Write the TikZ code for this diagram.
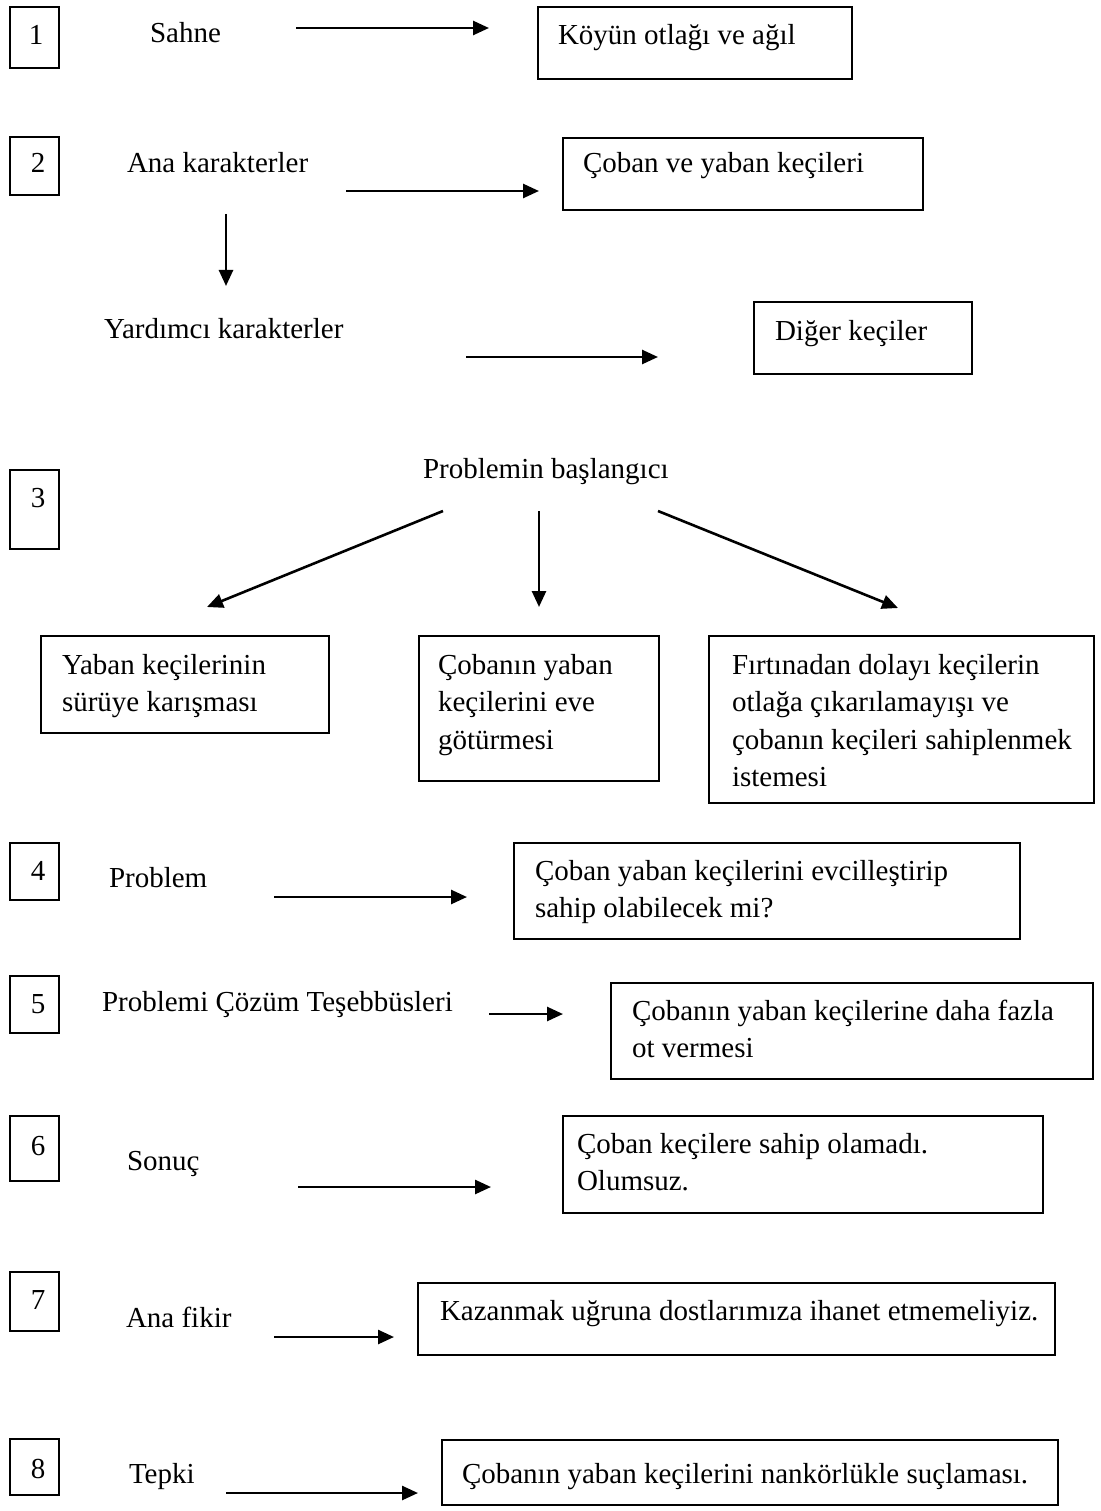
\documentclass[tikz,border=0pt]{standalone}
\usepackage{fontspec}
\setmainfont{Liberation Serif}
\usetikzlibrary{arrows.meta}
\newcommand\linesof[1]{\begin{tabular}[t]{@{}l@{}}#1\end{tabular}}
\begin{document}
\begin{tikzpicture}[x=1pt,y=-1pt,
  every node/.style={font=\fontsize{29}{37.5}\selectfont},
  lbl/.style={anchor=base west,inner sep=0pt,outer sep=0pt},
  digit/.style={anchor=base,inner sep=0pt,outer sep=0pt},
  frame/.style={draw,line width=2pt,rectangle,anchor=north west,inner sep=0pt,outer sep=0pt},
  numbox/.style={frame,minimum width=49pt},
  link/.style={line width=2.6pt,-{Triangle[length=16pt,width=14pt]}}]
\useasboundingbox (0,0) rectangle (1100,1511);

% ---- numbered step boxes ----
\node[numbox,minimum height=61pt] (n1) at (10,7) {};
\node[numbox,minimum height=58pt] (n2) at (10,137) {};
\node[numbox,minimum height=79pt] (n3) at (10,470) {};
\node[numbox,minimum height=57pt] (n4) at (10,843) {};
\node[numbox,minimum height=57pt] (n5) at (10,976) {};
\node[numbox,minimum height=65pt] (n6) at (10,1116) {};
\node[numbox,minimum height=59pt] (n7) at (10,1272) {};
\node[numbox,minimum height=56pt] (n8) at (10,1439) {};
\node[digit] (d1) at (36,45) {1};
\node[digit] (d2) at (38,173) {2};
\node[digit] (d3) at (38,507) {3};
\node[digit] (d4) at (38,880) {4};
\node[digit] (d5) at (38,1013) {5};
\node[digit] (d6) at (38,1155) {6};
\node[digit] (d7) at (38,1309) {7};
\node[digit] (d8) at (38,1478) {8};

% ---- row labels ----
\node[lbl] (sahne) at (150,43) {Sahne};
\node[lbl] (ana) at (127,173) {Ana karakterler};
\node[lbl] (yard) at (104,338) {Yardımcı karakterler};
\node[lbl] (bas) at (423,478) {Problemin başlangıcı};
\node[lbl] (prob) at (109,887) {Problem};
\node[lbl] (coz) at (102,1011) {Problemi Çözüm Teşebbüsleri};
\node[lbl] (son) at (127,1170) {Sonuç};
\node[lbl] (fikir) at (126,1327) {Ana fikir};
\node[lbl] (tepki) at (129,1483) {Tepki};

% ---- answer boxes ----
\node[frame,minimum width=314pt,minimum height=72pt] (b1) at (538,7) {};
\node[frame,minimum width=360pt,minimum height=72pt] (b2) at (563,138) {};
\node[frame,minimum width=218pt,minimum height=72pt] (b3) at (754,302) {};
\node[frame,minimum width=288pt,minimum height=97pt] (b4) at (41,636) {};
\node[frame,minimum width=240pt,minimum height=145pt] (b5) at (419,636) {};
\node[frame,minimum width=385pt,minimum height=167pt] (b6) at (709,636) {};
\node[frame,minimum width=506pt,minimum height=96pt] (b7) at (514,843) {};
\node[frame,minimum width=482pt,minimum height=96pt] (b8) at (611,983) {};
\node[frame,minimum width=480pt,minimum height=97pt] (b9) at (563,1116) {};
\node[frame,minimum width=637pt,minimum height=72pt] (b10) at (418,1283) {};
\node[frame,minimum width=616pt,minimum height=65pt] (b11) at (442,1440) {};

\node[lbl] (t1) at (558,45) {Köyün otlağı ve ağıl};
\node[lbl] (t2) at (583,173) {Çoban ve yaban keçileri};
\node[lbl] (t3) at (775,340) {Diğer keçiler};
\node[lbl] (t4) at (62,674) {\linesof{Yaban keçilerinin\\sürüye karışması}};
\node[lbl] (t5) at (438,674) {\linesof{Çobanın yaban\\keçilerini eve\\götürmesi}};
\node[lbl] (t6) at (732,674) {\linesof{Fırtınadan dolayı keçilerin\\otlağa çıkarılamayışı ve\\çobanın keçileri sahiplenmek\\istemesi}};
\node[lbl] (t7) at (535,880) {\linesof{Çoban yaban keçilerini evcilleştirip\\sahip olabilecek mi?}};
\node[lbl] (t8) at (632,1020) {\linesof{Çobanın yaban keçilerine daha fazla\\ot vermesi}};
\node[lbl] (t9) at (577,1153) {\linesof{Çoban keçilere sahip olamadı.\\Olumsuz.}};
\node[lbl] (t10) at (440,1320) {Kazanmak uğruna dostlarımıza ihanet etmemeliyiz.};
\node[lbl] (t11) at (462,1483) {Çobanın yaban keçilerini nankörlükle suçlaması.};

% ---- arrow end points ----
\coordinate (a1s) at (296,28);   \coordinate (a1e) at (489,28);
\coordinate (a2s) at (346,191);  \coordinate (a2e) at (539,191);
\coordinate (dns) at (226,214);  \coordinate (dne) at (226,286);
\coordinate (a3s) at (466,357);  \coordinate (a3e) at (658,357);
\coordinate (pls) at (443,511);  \coordinate (ple) at (207,607);
\coordinate (pcs) at (539,511);  \coordinate (pce) at (539,607);
\coordinate (prs) at (658,511);  \coordinate (pre) at (898,608);
\coordinate (a4s) at (274,897);  \coordinate (a4e) at (467,897);
\coordinate (a5s) at (489,1014); \coordinate (a5e) at (563,1014);
\coordinate (a6s) at (298,1187); \coordinate (a6e) at (491,1187);
\coordinate (a7s) at (274,1337); \coordinate (a7e) at (394,1337);
\coordinate (a8s) at (226,1493); \coordinate (a8e) at (418,1493);

% ---- arrows ----
\draw[link] (a1s) -- (a1e);
\draw[link] (a2s) -- (a2e);
\draw[link] (dns) -- (dne);
\draw[link] (a3s) -- (a3e);
\draw[link] (pls) -- (ple);
\draw[link] (pcs) -- (pce);
\draw[link] (prs) -- (pre);
\draw[link] (a4s) -- (a4e);
\draw[link] (a5s) -- (a5e);
\draw[link] (a6s) -- (a6e);
\draw[link] (a7s) -- (a7e);
\draw[link] (a8s) -- (a8e);
\end{tikzpicture}
\end{document}
